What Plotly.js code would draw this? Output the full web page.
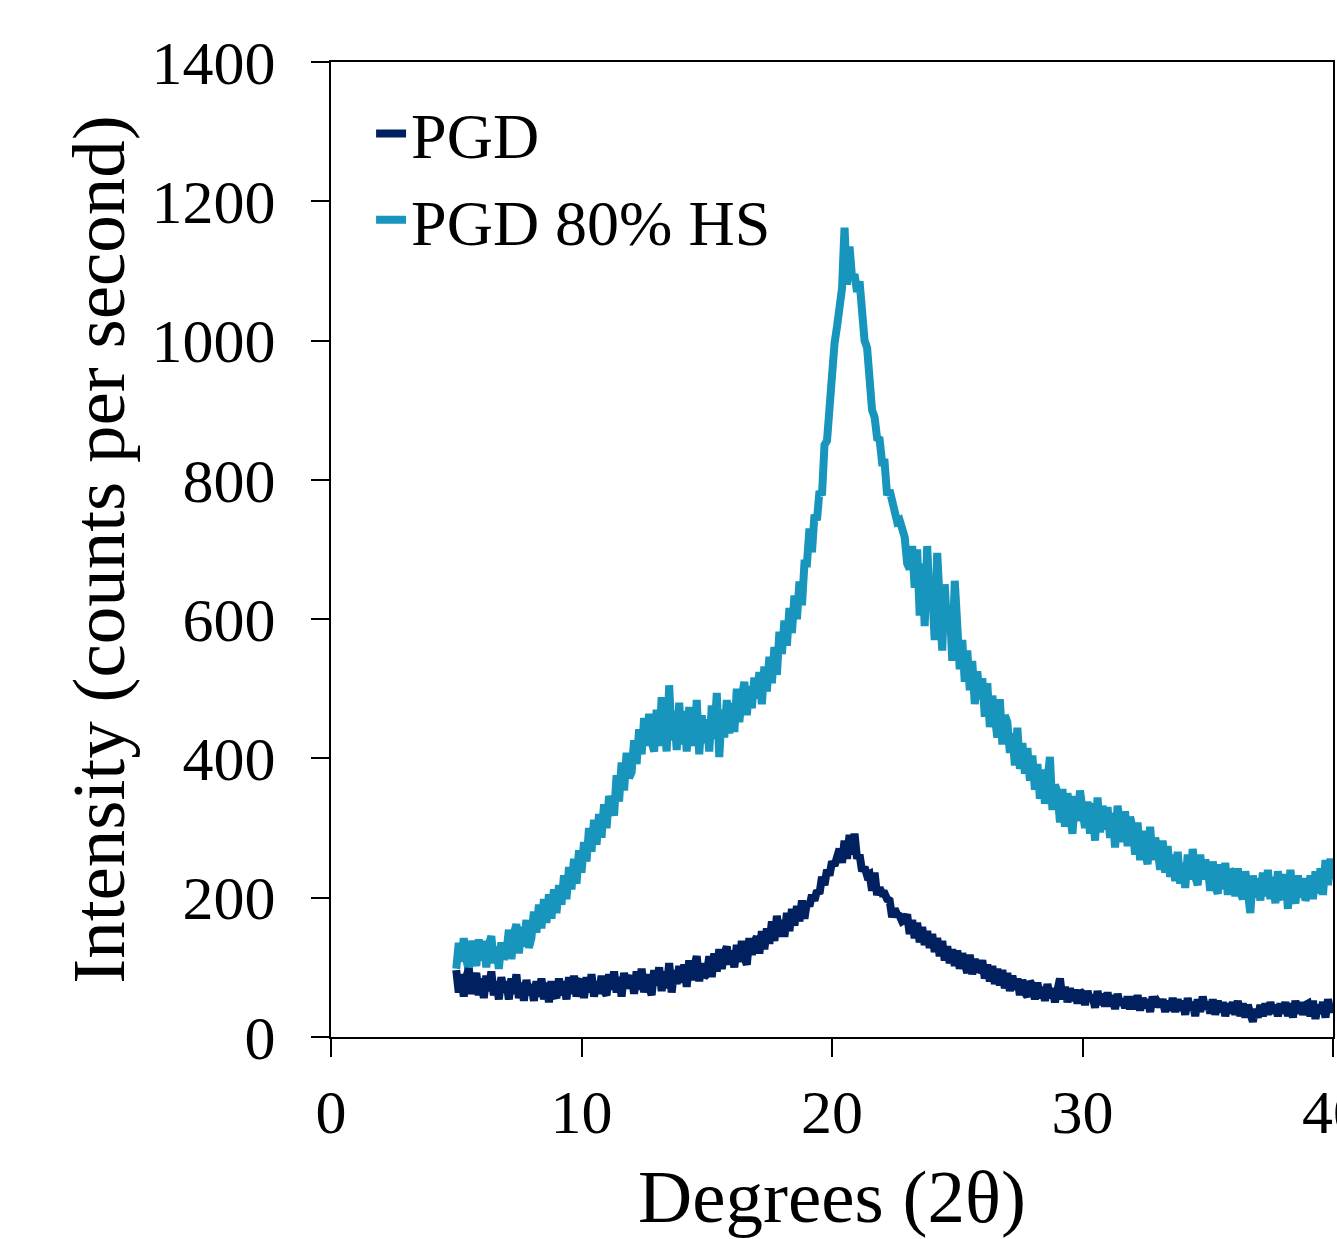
<!DOCTYPE html>
<html>
<head>
<meta charset="utf-8">
<script src="https://cdn.plot.ly/plotly-3.0.1.min.js"></script>
<style>html,body{margin:0;padding:0;background:#fff;}#chart{width:1337px;height:1239px;}</style>
</head>
<body>
<div id="chart"></div>
<script>
// 2θ scan: 5.0° to 40.0° in 0.1° steps
const scanStart = 5.0;
const scanStep = 0.1;

const seriesNames = ["PGD", "PGD 80% HS"];

// PGD 80% HS intensity (counts per second)
const hsIntensity = [
  98, 135, 108, 142, 112, 95, 138, 118, 102, 140,
  110, 138, 100, 132, 145, 106, 130, 98, 136, 112,
  120, 154, 112, 148, 162, 120, 158, 130, 168, 128,
  142, 180, 150, 190, 156, 198, 164, 205, 170, 212,
  178, 218, 190, 232, 198, 244, 212, 256, 220, 268,
  236, 280, 252, 300, 266, 312, 276, 320, 286, 334,
  300, 346, 334, 318, 376, 338, 394, 354, 408, 372,
  380, 426, 392, 442, 406, 458, 418, 464, 424, 410,
  470, 418, 488, 430, 410, 505, 426, 468, 412, 480,
  420, 468, 410, 474, 432, 418, 484, 406, 462, 422,
  456, 410, 476, 428, 494, 402, 470, 430, 484, 436,
  480, 438, 500, 452, 488, 510, 462, 504, 472, 516,
  486, 524, 478, 532, 496, 546, 508, 560, 520, 582,
  550, 598, 562, 616, 580, 634, 600, 654, 620, 680,
  680, 730, 696, 750, 742, 784, 778, 850, 856, 918,
  940, 996, 1020, 1064, 1075, 1162, 1080, 1135, 1090, 1095,
  1070, 1085, 1025, 1000, 990, 940, 900, 890, 860, 858,
  825, 825, 778, 785, 770, 758, 740, 742, 730, 718,
  680, 672, 705, 645, 700, 605, 680, 590, 705, 625,
  640, 570, 695, 600, 555, 650, 585, 620, 540, 655,
  590, 528, 570, 510, 555, 498, 540, 478, 525, 485,
  515, 460, 508, 445, 490, 452, 430, 485, 420, 462,
  452, 408, 436, 390, 444, 385, 422, 378, 415, 368,
  404, 355, 392, 342, 384, 335, 375, 402, 326, 362,
  352, 308, 356, 302, 350, 312, 292, 346, 310, 354,
  326, 300, 338, 292, 336, 282, 344, 294, 332, 298,
  330, 286, 322, 272, 332, 290, 280, 324, 274, 316,
  300, 262, 308, 254, 296, 266, 248, 302, 254, 286,
  270, 240, 282, 236, 274, 230, 262, 224, 266, 220,
  250, 214, 262, 226, 270, 230, 218, 262, 226, 254,
  244, 210, 252, 216, 206, 248, 212, 250, 204, 240,
  236, 202, 242, 208, 198, 238, 206, 178, 232, 200,
  228, 196, 236, 202, 240, 198, 230, 192, 238, 204,
  198, 234, 184, 240, 204, 192, 232, 200, 228, 196,
  206, 232, 198, 238, 206, 242, 204, 254, 218, 256,
  226
];

// PGD intensity (counts per second)
const pgdIntensity = [
  96, 64, 90, 58, 86, 98, 62, 82, 92, 60,
  84, 56, 88, 66, 94, 60, 80, 54, 86, 64,
  80, 54, 84, 62, 90, 56, 78, 52, 82, 60,
  76, 52, 80, 58, 84, 54, 78, 50, 80, 62,
  56, 84, 60, 80, 54, 86, 62, 88, 58, 78,
  82, 56, 86, 64, 90, 58, 80, 62, 88, 66,
  60, 90, 68, 94, 64, 86, 58, 92, 70, 80,
  88, 62, 94, 68, 98, 64, 90, 72, 60, 96,
  74, 100, 66, 94, 70, 106, 64, 96, 76, 102,
  78, 104, 72, 110, 82, 100, 116, 80, 106, 86,
  90, 116, 86, 120, 94, 126, 98, 118, 130, 104,
  124, 100, 132, 108, 138, 114, 104, 142, 118, 136,
  144, 120, 152, 126, 156, 134, 166, 138, 174, 144,
  168, 144, 178, 152, 184, 160, 188, 166, 196, 170,
  194, 188, 204, 196, 210, 206, 230, 218, 240, 232,
  252, 246, 256, 270, 250, 282, 256, 290, 262, 292,
  256, 262, 238, 244, 232, 234, 210, 236, 204, 214,
  206, 206, 198, 196, 172, 184, 176, 174, 166, 168,
  176, 148, 168, 142, 164, 136, 158, 132, 152, 128,
  148, 122, 142, 116, 138, 110, 130, 106, 126, 102,
  124, 98, 120, 102, 92, 118, 90, 112, 94, 98,
  110, 84, 104, 80, 102, 76, 98, 74, 96, 70,
  92, 66, 88, 68, 84, 60, 82, 64, 58, 80,
  74, 54, 78, 56, 72, 52, 76, 56, 70, 50,
  68, 84, 54, 72, 50, 70, 52, 68, 48, 66,
  62, 46, 66, 52, 60, 42, 66, 46, 62, 44,
  64, 44, 60, 40, 62, 46, 54, 42, 58, 40,
  58, 40, 60, 38, 56, 42, 54, 36, 58, 44,
  50, 44, 54, 36, 52, 38, 56, 36, 54, 38,
  52, 32, 56, 38, 50, 30, 54, 36, 58, 40,
  50, 34, 54, 32, 52, 36, 50, 30, 48, 34,
  50, 32, 52, 30, 48, 28, 46, 26, 22, 40,
  28, 46, 30, 48, 32, 50, 34, 46, 30, 48,
  34, 50, 30, 48, 28, 52, 34, 50, 32, 46,
  48, 30, 52, 26, 46, 34, 50, 28, 54, 36,
  46
];

const xTickVals = [0, 10, 20, 30, 40];
const yTickVals = [0, 200, 400, 600, 800, 1000, 1200, 1400];

const FONT = '"Liberation Serif", "Times New Roman", Times, serif';

const traces = [
  {
    type: 'scatter', mode: 'lines', name: seriesNames[1],
    x0: scanStart, dx: scanStep, y: hsIntensity,
    line: {color: '#1795BD', width: 8}
  },
  {
    type: 'scatter', mode: 'lines', name: seriesNames[0],
    x0: scanStart, dx: scanStep, y: pgdIntensity,
    line: {color: '#002060', width: 8}
  }
];

const layout = {
  width: 1337, height: 1239,
  margin: {l: 331, r: 4, t: 62, b: 202},
  paper_bgcolor: '#fff', plot_bgcolor: '#fff',
  font: {family: FONT, size: 62, color: '#000'},
  showlegend: true,
  legend: {
    x: 0.04, y: 0.976, xanchor: 'left', yanchor: 'top',
    traceorder: 'reversed', bgcolor: 'rgba(0,0,0,0)',
    font: {family: FONT, size: 64, color: '#000'},
    tracegroupgap: 0, itemwidth: 30
  },
  xaxis: {
    range: [0, 40], tickvals: xTickVals, ticktext: xTickVals.map(String),
    showline: true, mirror: true, linecolor: '#000', linewidth: 2,
    ticks: 'outside', ticklen: 18, tickwidth: 2, tickcolor: '#000',
    showgrid: false, zeroline: false, ticklabelstandoff: 2,
    ticklabeloverflow: 'allow',
    tickfont: {family: FONT, size: 62, color: '#000'},
    title: {text: 'Degrees (2θ)', font: {family: FONT, size: 75, color: '#000'}, standoff: 24}
  },
  yaxis: {
    range: [0, 1400], tickvals: yTickVals, ticktext: yTickVals.map(String),
    showline: true, mirror: true, linecolor: '#000', linewidth: 2,
    ticks: 'outside', ticklen: 18, tickwidth: 2, tickcolor: '#000',
    showgrid: false, zeroline: false, ticklabelstandoff: 23,
    tickfont: {family: FONT, size: 62, color: '#000'},
    title: {text: 'Intensity (counts per second)', font: {family: FONT, size: 75, color: '#000'}, standoff: 2}
  }
};

Plotly.newPlot('chart', traces, layout, {displayModeBar: false, staticPlot: true});
</script>
</body>
</html>
